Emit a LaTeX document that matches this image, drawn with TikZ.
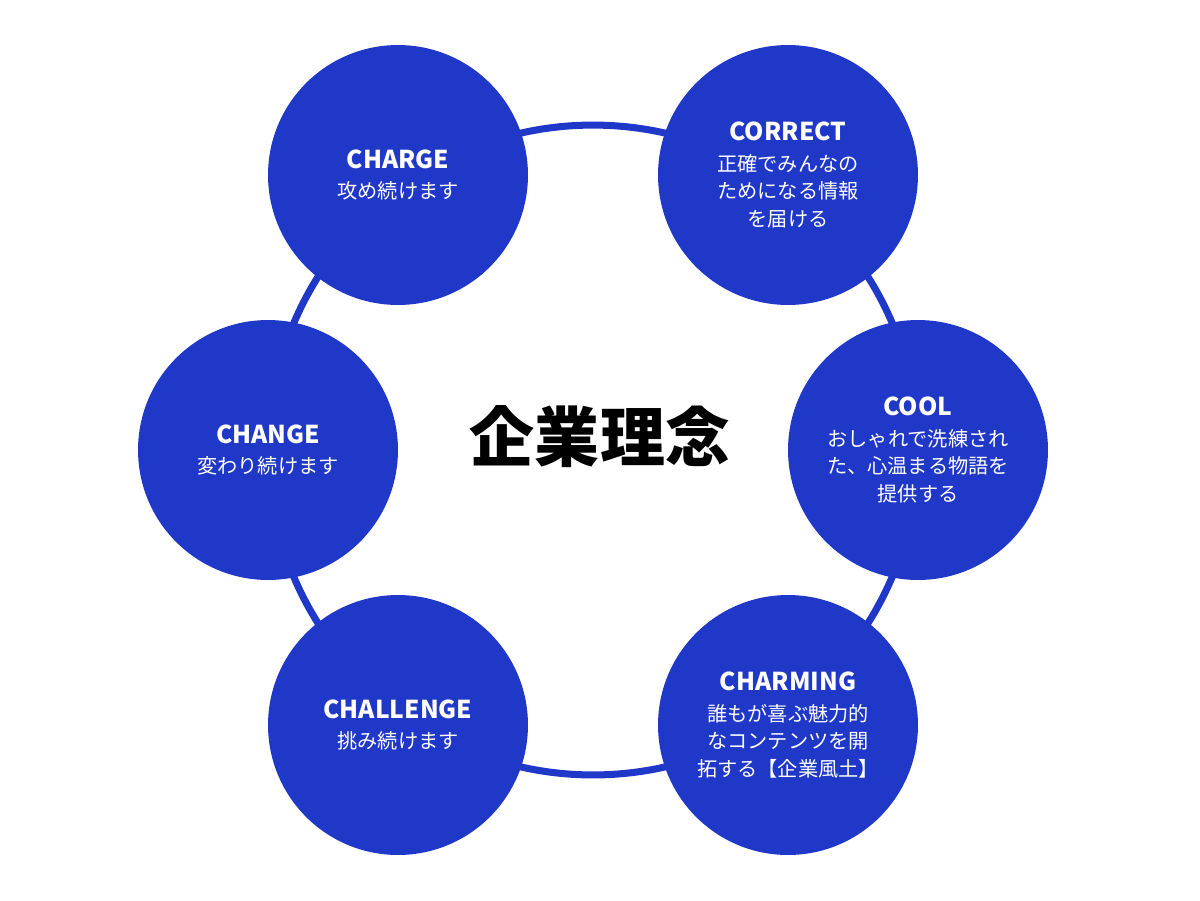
\documentclass[tikz,border=0pt]{standalone}
\usepackage{fontspec}
\setmainfont{Noto Sans CJK JP}
\usepackage{tikz}
\usetikzlibrary{positioning,backgrounds}
\definecolor{brandblue}{HTML}{2038C8}
\tikzset{
  value/.style={circle,fill=brandblue,minimum size=5.2cm,inner sep=0pt,
    text=white,align=center,font=\fontsize{11.5}{15.5}\selectfont},
  ring/.style={draw=brandblue,line width=4pt}
}
\newcommand{\vtitle}[1]{{\fontsize{14}{20}\selectfont\bfseries #1}\\[2pt]}
\begin{document}
\begin{tikzpicture}[x=0.02cm,y=-0.02cm]
      \useasboundingbox (0,0) rectangle (1200,900);
      \coordinate (c) at (593,450);

      \draw[ring] (c) circle[radius=6.5cm];

      \node[value] (charge) at (398,175) {\vtitle{CHARGE}攻め続けます};
      \node[value] (correct) at (788,175) {\vtitle{CORRECT}正確でみんなの\\ためになる情報\\を届ける};
      \node[value] (cool) at (918,450) {\vtitle{COOL}おしゃれで洗練され\\た、心温まる物語を\\提供する};
      \node[value] (charming) at (788,725) {\vtitle{CHARMING}誰もが喜ぶ魅力的\\なコンテンツを開\\拓する【企業風土】};
      \node[value] (challenge) at (398,725) {\vtitle{CHALLENGE}挑み続けます};
      \node[value] (change) at (268,450) {\vtitle{CHANGE}変わり続けます};

      \node[font=\fontsize{37}{40}\selectfont\bfseries] (title) at (600,437) {企業理念};
    \end{tikzpicture}
\end{document}
